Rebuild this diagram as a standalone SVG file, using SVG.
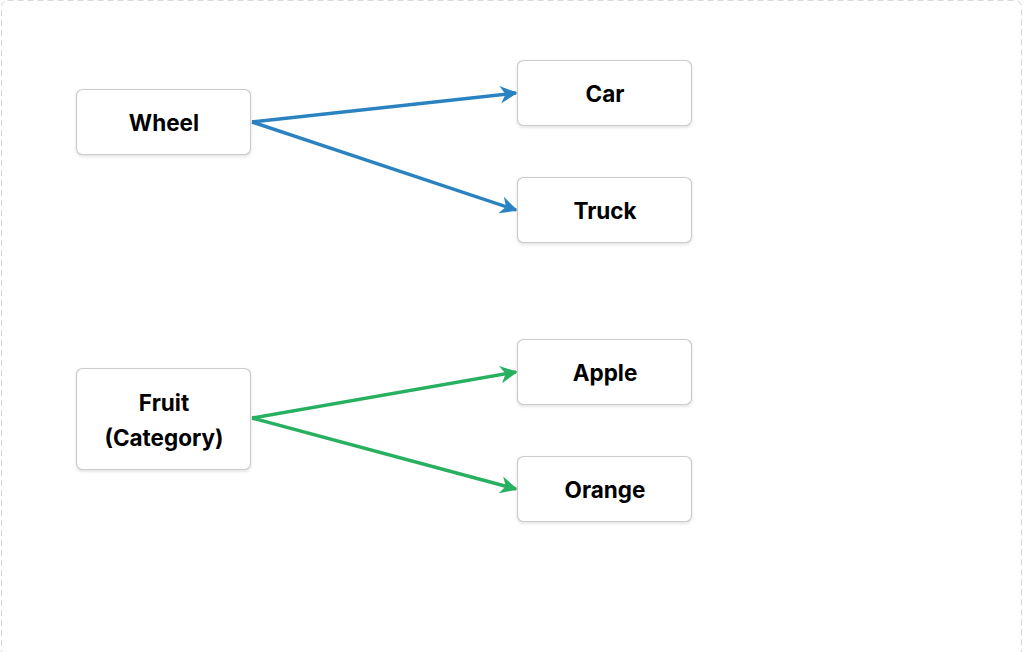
<svg xmlns="http://www.w3.org/2000/svg" width="1024" height="652" viewBox="0 0 1024 652">
<defs>
<style>
.box{fill:#fff;stroke:#cccccc;stroke-width:1.2;filter:url(#sh)}
.lbl{font-family:Inter,"Liberation Sans",sans-serif;font-weight:700;font-size:22.5px;fill:#000;text-anchor:middle}
.blue{stroke:#2a82c0;stroke-width:3.5;fill:none;marker-end:url(#ab)}
.green{stroke:#27b060;stroke-width:3.5;fill:none;marker-end:url(#ag)}
</style>
<filter id="sh" x="-10%" y="-10%" width="120%" height="130%">
<feDropShadow dx="0" dy="1.5" stdDeviation="1.5" flood-color="#000" flood-opacity="0.12"/>
</filter>
<marker id="ab" viewBox="0 0 10 10" refX="9" refY="5" markerWidth="5" markerHeight="5" orient="auto" markerUnits="strokeWidth">
<path d="M0,0 L10,5 L0,10 L3,5 Z" fill="#2a82c0"/>
</marker>
<marker id="ag" viewBox="0 0 10 10" refX="9" refY="5" markerWidth="5" markerHeight="5" orient="auto" markerUnits="strokeWidth">
<path d="M0,0 L10,5 L0,10 L3,5 Z" fill="#27b060"/>
</marker>
</defs>
<rect x="1.5" y="0.5" width="1020" height="680" rx="6" fill="#fff" stroke="#d8d8d8" stroke-dasharray="6 4"/>
<g id="connectors">
<path class="blue" d="M252,122 L516,93"/>
<path class="blue" d="M252,122 L516,210"/>
<path class="green" d="M252,418 L516,372"/>
<path class="green" d="M252,418 L516,489"/>
</g>
<g id="wheel"><rect class="box" x="76.5" y="89.5" width="174" height="65" rx="6"/><text class="lbl" x="164" y="131">Wheel</text></g>
<g id="car"><rect class="box" x="517.5" y="60.5" width="174" height="65" rx="6"/><text class="lbl" x="605" y="102">Car</text></g>
<g id="truck"><rect class="box" x="517.5" y="177.5" width="174" height="65" rx="6"/><text class="lbl" x="605" y="219">Truck</text></g>
<g id="fruit"><rect class="box" x="76.5" y="368.5" width="174" height="101" rx="6"/><text class="lbl" x="164" y="410.5">Fruit</text><text class="lbl" x="164" y="445.5">(Category)</text></g>
<g id="apple"><rect class="box" x="517.5" y="339.5" width="174" height="65" rx="6"/><text class="lbl" x="605" y="381">Apple</text></g>
<g id="orange"><rect class="box" x="517.5" y="456.5" width="174" height="65" rx="6"/><text class="lbl" x="605" y="498">Orange</text></g>
</svg>
